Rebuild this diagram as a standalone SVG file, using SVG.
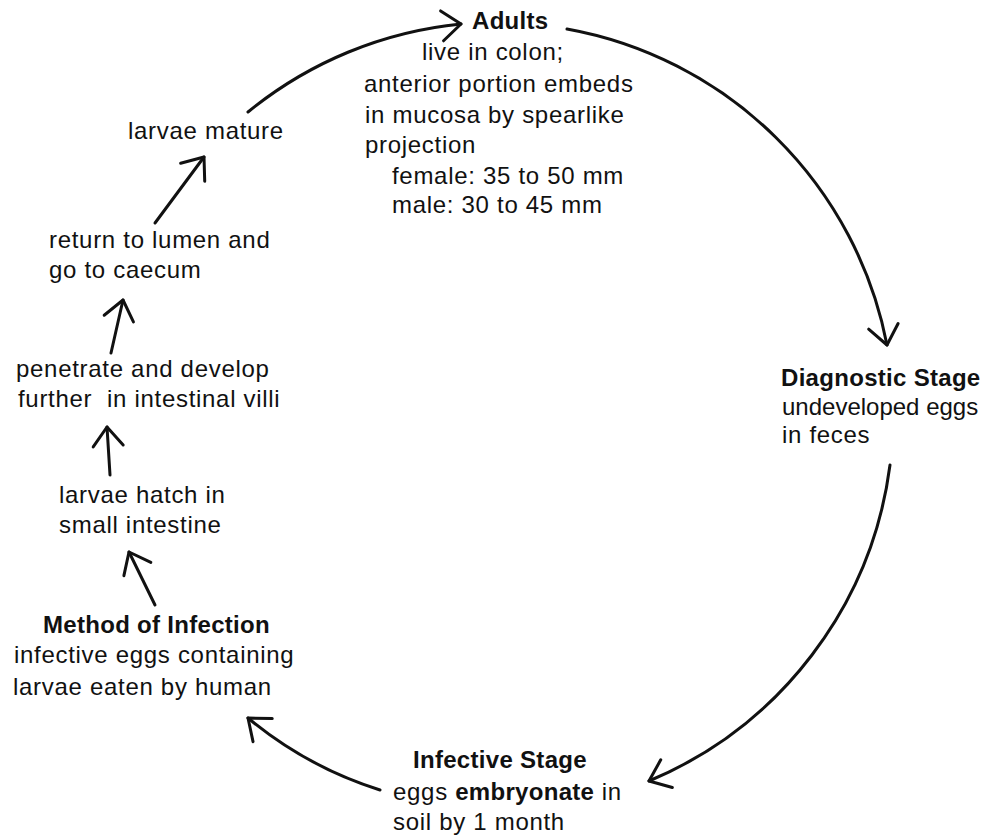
<svg xmlns="http://www.w3.org/2000/svg" width="987" height="836" viewBox="0 0 987 836">
  <defs>
    <style>
      text { font-family: "Liberation Sans", Arial, Helvetica, sans-serif; font-size: 24px; fill: #111; letter-spacing: 0.7px; white-space: pre; }
      .b { font-weight: bold; letter-spacing: 0.3px; }
      .tight { letter-spacing: 0px; }
      .link { fill: none; stroke: #111; stroke-width: 3; stroke-linecap: round; marker-end: url(#head); }
    </style>
    <!-- open V arrowhead, hand-drawn style -->
    <marker id="head" markerUnits="userSpaceOnUse" viewBox="-26 -20 30 40" markerWidth="30" markerHeight="40" refX="0" refY="0" orient="auto" overflow="visible">
      <path d="M-19,-15 L0,0 L-19,15" fill="none" stroke="#111" stroke-width="3" stroke-linecap="round" stroke-linejoin="round"/>
    </marker>
  </defs>
  <rect width="987" height="836" fill="#fff"/>

  <g id="connectors">
    <!-- life-cycle circle, centre about (495,423) -->
    <path class="link" d="M248,112 A398,398 0 0 1 461,24"/>
    <path class="link" d="M567,29 A398,398 0 0 1 887,345"/>
    <path class="link" d="M890,465 A398,398 0 0 1 649,781"/>
    <path class="link" d="M380,790 A390,390 0 0 1 248,718"/>
    <!-- short steps inside the host -->
    <path class="link" d="M155,605 L129,552"/>
    <path class="link" d="M110,475 L107,427"/>
    <path class="link" d="M111,353 L123,300"/>
    <path class="link" d="M155,223 L204,157"/>
  </g>

  <g id="adults">
    <text class="b" x="472" y="29">Adults</text>
    <text x="422" y="60">live in colon;</text>
    <text x="364" y="92">anterior portion embeds</text>
    <text x="365" y="123">in mucosa by spearlike</text>
    <text x="365" y="153">projection</text>
    <text x="392" y="184">female: 35 to 50 mm</text>
    <text x="392" y="213">male: 30 to 45 mm</text>
  </g>

  <g id="diagnostic-stage">
    <text class="b" x="781" y="386">Diagnostic Stage</text>
    <text class="tight" x="782" y="415">undeveloped eggs</text>
    <text x="782" y="443">in feces</text>
  </g>

  <g id="infective-stage">
    <text class="b" x="413" y="768">Infective Stage</text>
    <text x="393" y="800">eggs <tspan class="b">embryonate</tspan> in</text>
    <text x="393" y="830">soil by 1 month</text>
  </g>

  <g id="method-of-infection">
    <text class="b" x="43" y="633">Method of Infection</text>
    <text x="14" y="663">infective eggs containing</text>
    <text x="13" y="695">larvae eaten by human</text>
  </g>

  <g id="larvae-hatch">
    <text x="59" y="503">larvae hatch in</text>
    <text x="59" y="533">small intestine</text>
  </g>

  <g id="penetrate">
    <text x="16" y="377">penetrate and develop</text>
    <text x="18" y="407">further  in intestinal villi</text>
  </g>

  <g id="return-to-lumen">
    <text x="49" y="248">return to lumen and</text>
    <text x="49" y="278">go to caecum</text>
  </g>

  <g id="larvae-mature">
    <text x="128" y="139">larvae mature</text>
  </g>
</svg>
